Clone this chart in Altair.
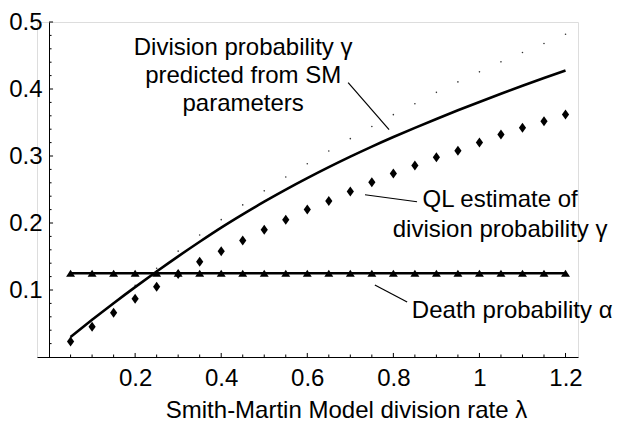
import altair as alt
import pandas as pd

FONT = "Liberation Sans"

# ---- data ----
lam = [0.05, 0.10, 0.15, 0.20, 0.25, 0.30, 0.35, 0.40, 0.45, 0.50, 0.55, 0.60,
       0.65, 0.70, 0.75, 0.80, 0.85, 0.90, 0.95, 1.00, 1.05, 1.10, 1.15, 1.20]

# QL estimate of division probability gamma (diamonds)
gamma_ql = [0.023, 0.045, 0.066, 0.087, 0.105, 0.124, 0.142, 0.158, 0.174, 0.190, 0.205, 0.220,
            0.233, 0.247, 0.261, 0.274, 0.286, 0.298, 0.308, 0.320, 0.332, 0.342, 0.352, 0.362]

# Division probability gamma predicted from SM parameters (solid curve)
gamma_sm = [0.0300, 0.0555, 0.0803, 0.1043, 0.1276, 0.1502, 0.1720, 0.1931, 0.2129, 0.2318,
            0.2498, 0.2669, 0.2833, 0.2990, 0.3140, 0.3283, 0.3420, 0.3553, 0.3682, 0.3807,
            0.3929, 0.4048, 0.4164, 0.4277]

# faint dotted curve
gamma_dot = [0.029, 0.056, 0.081, 0.107, 0.1325, 0.158, 0.182, 0.205, 0.227, 0.248, 0.2686, 0.2885,
             0.3074, 0.3259, 0.344, 0.3617, 0.378, 0.395, 0.4106, 0.4256, 0.4405, 0.4544, 0.468, 0.4818]

# Death probability alpha (triangles)
alpha = [0.125, 0.125, 0.125, 0.125, 0.125, 0.125, 0.125, 0.125, 0.125, 0.125, 0.125, 0.125,
         0.125, 0.125, 0.125, 0.125, 0.125, 0.125, 0.125, 0.125, 0.125, 0.125, 0.125, 0.125]

x_tick_labels = [0.2, 0.4, 0.6, 0.8, 1.0, 1.2]
y_tick_labels = [0.1, 0.2, 0.3, 0.4, 0.5]
x_minor = [0.05, 0.10, 0.15, 0.25, 0.30, 0.35, 0.45, 0.50, 0.55, 0.65, 0.70, 0.75,
           0.85, 0.90, 0.95, 1.05, 1.10, 1.15]
y_minor = [0.02, 0.04, 0.06, 0.08, 0.12, 0.14, 0.16, 0.18, 0.22, 0.24, 0.26, 0.28,
           0.32, 0.34, 0.36, 0.38, 0.42, 0.44, 0.46, 0.48]

# annotation texts (data coordinates of their anchor)
center_text = ["Division probability \u03b3", "predicted from SM", "parameters",
               "QL estimate of", "division probability \u03b3"]
center_x = [0.451, 0.451, 0.451, 1.048, 1.048]
center_y = [0.4514, 0.4090, 0.3667, 0.2235, 0.1798]
left_text = ["Death probability \u03b1"]
left_x = [0.843]
left_y = [0.0578]

# leader lines
lead_x = [0.695, 0.734, 0.757]
lead_y = [0.4096, 0.2422, 0.1076]
lead_x2 = [0.790, 0.855, 0.832]
lead_y2 = [0.3393, 0.2317, 0.0822]

# ---- chart ----
xscale = alt.Scale(domain=[-0.028, 1.229], nice=False, zero=False)
yscale = alt.Scale(domain=[0, 0.5], nice=False, zero=False)

xaxis = alt.Axis(values=x_tick_labels, format="~g", grid=False, ticks=False, tickSize=0,
                 labelFont=FONT, labelFontSize=24, labelColor="black", labelPadding=9,
                 labelFlush=False, labelOverlap=False,
                 domainColor="black", domainWidth=1,
                 title="Smith-Martin Model division rate \u03bb", titleFont=FONT,
                 titleFontSize=24, titleFontWeight="normal", titleColor="black",
                 titleX=309, titleY=60, titleBaseline="alphabetic", titleAlign="center",
                 titleAnchor="start")
yaxis = alt.Axis(values=y_tick_labels, format="~g", grid=False, ticks=False, tickSize=0,
                 labelFont=FONT, labelFontSize=24, labelColor="black", labelPadding=7,
                 labelFlush=False, labelOverlap=False, offset=-12,
                 domainColor="black", domainWidth=1, title=None)

X = alt.X("x:Q", scale=xscale, axis=xaxis)
Y = alt.Y("y:Q", scale=yscale, axis=yaxis)

df_ql = pd.DataFrame({"x": lam, "y": gamma_ql})
df_sm = pd.DataFrame({"x": lam, "y": gamma_sm})
df_dot = pd.DataFrame({"x": lam, "y": gamma_dot})
df_al = pd.DataFrame({"x": lam, "y": alpha})

dots = alt.Chart(df_dot).mark_point(filled=True, shape="circle", size=2.5, color="#333333",
                                    opacity=1).encode(x=X, y=Y)
sm_line = alt.Chart(df_sm).mark_line(color="black", strokeWidth=2.6,
                                     interpolate="monotone").encode(x=X, y=Y)
al_line = alt.Chart(df_al).mark_line(color="black", strokeWidth=2.5).encode(x=X, y=Y)
tri = alt.Chart(df_al).mark_point(filled=True, shape="M0,-0.8L1,0.8L-1,0.8Z", size=80,
                                  color="black", opacity=1).encode(x=X, y=Y)
dia = alt.Chart(df_ql).mark_point(filled=True, shape="M0,-1L0.72,0L0,1L-0.72,0Z", size=100,
                                  color="black", opacity=1).encode(x=X, y=Y)

df_lead = pd.DataFrame({"x": lead_x, "y": lead_y, "x2": lead_x2, "y2": lead_y2})
leads = alt.Chart(df_lead).mark_rule(color="black", strokeWidth=1.2).encode(
    x=X, y=Y, x2="x2:Q", y2="y2:Q")

df_ct = pd.DataFrame({"x": center_x, "y": center_y, "t": center_text})
ctext = alt.Chart(df_ct).mark_text(align="center", baseline="alphabetic", font=FONT,
                                   fontSize=24, color="black").encode(x=X, y=Y, text="t:N")
df_lt = pd.DataFrame({"x": left_x, "y": left_y, "t": left_text})
ltext = alt.Chart(df_lt).mark_text(align="left", baseline="alphabetic", font=FONT,
                                   fontSize=24, color="black").encode(x=X, y=Y, text="t:N")

# inward tick marks (Mathematica style)
xt = pd.DataFrame({
    "x": x_tick_labels + x_minor,
    "x2": x_tick_labels + x_minor,
    "y": [0.0] * (len(x_tick_labels) + len(x_minor)),
    "y2": [0.006] * len(x_tick_labels) + [0.0037] * len(x_minor),
})
yt = pd.DataFrame({
    "y": y_tick_labels + y_minor,
    "y2": y_tick_labels + y_minor,
    "x": [0.0] * (len(y_tick_labels) + len(y_minor)),
    "x2": [0.0093] * len(y_tick_labels) + [0.0058] * len(y_minor),
})
xticks = alt.Chart(xt).mark_rule(color="black", strokeWidth=1).encode(
    x=X, y=Y, x2="x2:Q", y2="y2:Q")
yticks = alt.Chart(yt).mark_rule(color="black", strokeWidth=1).encode(
    x=X, y=Y, x2="x2:Q", y2="y2:Q")

chart = alt.layer(
    xticks, yticks, dots, sm_line, al_line, tri, dia, leads, ctext, ltext
).properties(
    width=541, height=335,
    autosize=alt.AutoSizeParams(type="none"),
    padding={"left": 29, "top": 14, "right": 38, "bottom": 66},
).configure_view(stroke=None).configure(background="white")

chart.save("out.html", embed_options={"renderer": "svg", "actions": False})
